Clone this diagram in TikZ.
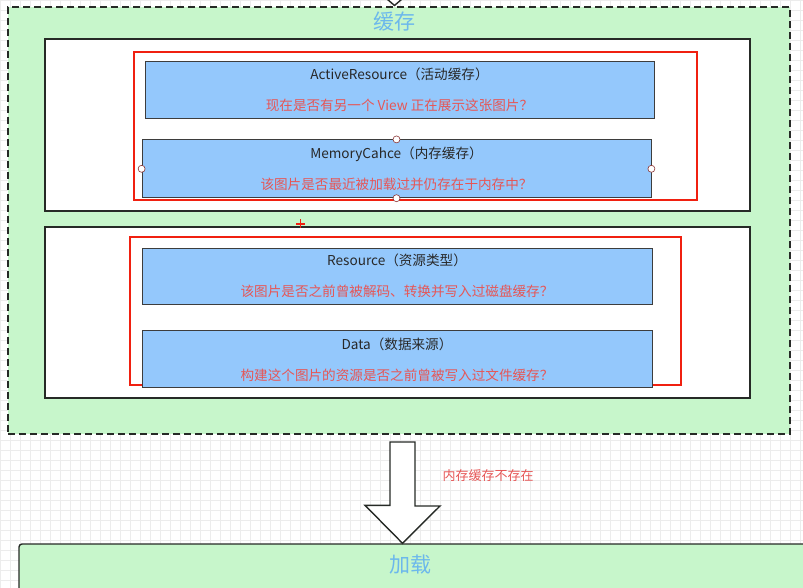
\documentclass[tikz,border=0pt]{standalone}
\usepackage{fontspec}
\setmainfont{Noto Sans CJK SC}
\definecolor{cachegreen}{RGB}{199, 246, 203}
\definecolor{boxblue}{RGB}{148, 200, 252}
\definecolor{titleblue}{RGB}{108, 184, 236}
\definecolor{markred}{RGB}{240, 32, 16}
\definecolor{askred}{RGB}{230, 86, 86}
\definecolor{edgegray}{RGB}{38, 42, 38}
\definecolor{textgray}{RGB}{40, 40, 40}
\definecolor{gridgray}{RGB}{236, 236, 236}
\usetikzlibrary{positioning, calc}
\tikzset{
	cachegroup/.style={rectangle, draw=edgegray, fill=cachegreen, line width=1.4pt, dash pattern=on 7pt off 4pt, inner sep=0pt},
	loadgroup/.style={rectangle, rounded corners=3pt, draw=edgegray, fill=cachegreen, line width=1.4pt, inner sep=0pt},
	layer/.style={rectangle, draw=edgegray, fill=white, line width=1.4pt, inner sep=0pt},
	hitmark/.style={rectangle, draw=markred, line width=2.8pt, inner sep=0pt},
	cachebox/.style={rectangle, draw=textgray!90, fill=boxblue, line width=0.8pt, inner sep=0pt, align=center, text=textgray, minimum width=509pt, font=\fontsize{13.6}{31}\selectfont},
	grouptitle/.style={text=titleblue, font=\fontsize{21}{24}\selectfont},
	handle/.style={circle, draw=askred!60!black, fill=white, line width=0.6pt, inner sep=0pt, minimum size=7pt},
	blockarrow/.style={draw=edgegray, fill=white, line width=1.4pt, line join=miter},
	gridline/.style={draw=gridgray, line width=0.8pt},
}

\begin{document}
\begin{tikzpicture}[x=1pt, y=-1pt]
		\useasboundingbox (0,0) rectangle (803,588);
		% editor grid
		\foreach \gx in {0,10,...,800} \draw[gridline] (\gx,0) -- (\gx,588);
		\foreach \gy in {0,10,...,580} \draw[gridline] (0,\gy) -- (803,\gy);
		% cache
		\node[cachegroup, minimum width=782pt, minimum height=427pt] (cache) at (399,220.5) {};
		\node[grouptitle] (cachetitle) at (394,22) {缓存};
		\draw[edgegray, line width=1.4pt, fill=white] (387,-1) -- (394.5,5.5) -- (402,-1);
		\node[layer, minimum width=705pt, minimum height=172pt] (memlayer) at (397.5,125) {};
		\node[hitmark, minimum width=563pt, minimum height=148pt] (memmark) at (415.5,126) {};
		\node[cachebox, minimum height=57pt] (active) at (399.5,89.5) {ActiveResource（活动缓存）\\ \textcolor{askred}{现在是否有另一个 View 正在展示这张图片？}};
		\node[cachebox, minimum height=58pt, below=21pt of active, xshift=-3pt] (memory) {MemoryCahce（内存缓存）\\ \textcolor{askred}{该图片是否最近被加载过并仍存在于内存中？}};
		\foreach \side in {north, south, west, east} \node[handle] at (memory.\side) {};
		\node[layer, minimum width=705pt, minimum height=171pt] (disklayer) at (397.5,312.5) {};
		\node[hitmark, minimum width=551pt, minimum height=148pt] (diskmark) at (405.5,311) {};
		\node[cachebox, minimum width=510pt, minimum height=56pt] (resource) at (397,276) {Resource（资源类型）\\ \textcolor{askred}{该图片是否之前曾被解码、转换并写入过磁盘缓存？}};
		\node[cachebox, minimum width=510pt, minimum height=57pt, below=26pt of resource] (data) {Data（数据来源）\\ \textcolor{askred}{构建这个图片的资源是否之前曾被写入过文件缓存？}};
		\draw[markred, line width=1.6pt] (296,224) -- (305,224) (300.5,219.5) -- (300.5,228.5);
		% load
		\node[loadgroup, minimum width=791pt, minimum height=60pt] (load) at (414.5,574) {};
		\node[grouptitle] (loadtitle) at (410,565) {加载};
		\coordinate (arrtop) at (402.5,442);
		\draw[blockarrow] (arrtop) ++(-12.5,0) -- ++(25,0) -- ++(0,64) -- ++(25,0) -- (load.north -| arrtop) -- ++(-37.5,-38) -- ++(25,0) -- cycle;
		\node[text=askred, font=\fontsize{13}{15}\selectfont, anchor=west] (misslabel) at (439,476) {内存缓存不存在};
	\end{tikzpicture}
\end{document}
